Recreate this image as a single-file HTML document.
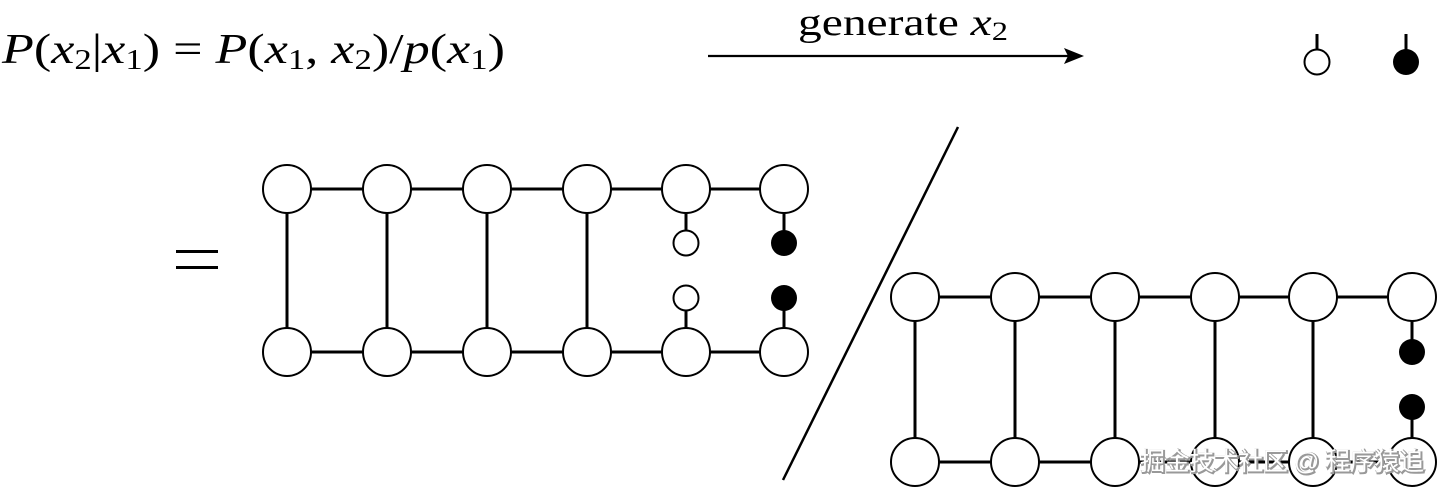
<!DOCTYPE html>
<html><head><meta charset="utf-8"><style>
html,body{margin:0;padding:0;background:#fff;width:1441px;height:491px;overflow:hidden}
</style></head><body>
<svg width="1441" height="491" viewBox="0 0 1441 491" xmlns="http://www.w3.org/2000/svg">
<defs>
<g id="big"><circle r="24" fill="#fff" stroke="#000" stroke-width="2"/></g>
</defs>
<text x="2" y="63" font-family="Liberation Serif, serif" font-size="42" textLength="503" lengthAdjust="spacingAndGlyphs"><tspan font-style="italic">P</tspan>(<tspan font-style="italic">x</tspan><tspan font-size="28" dy="6">2</tspan><tspan dy="-6">|</tspan><tspan font-style="italic">x</tspan><tspan font-size="28" dy="6">1</tspan><tspan dy="-6">) = </tspan><tspan font-style="italic">P</tspan>(<tspan font-style="italic">x</tspan><tspan font-size="28" dy="6">1</tspan><tspan dy="-6">, </tspan><tspan font-style="italic">x</tspan><tspan font-size="28" dy="6">2</tspan><tspan dy="-6">)/</tspan><tspan font-style="italic">p</tspan>(<tspan font-style="italic">x</tspan><tspan font-size="28" dy="6">1</tspan><tspan dy="-6">)</tspan></text>
<text x="798" y="35" font-family="Liberation Serif, serif" font-size="38" textLength="210" lengthAdjust="spacingAndGlyphs">generate <tspan font-style="italic">x</tspan><tspan font-size="26" dy="5">2</tspan></text>
<line x1="708" y1="56" x2="1072" y2="56" stroke="#000" stroke-width="2.2"/>
<polygon points="1064,48 1084,56 1064,64 1068,56" fill="#000"/>
<line x1="1317" y1="34" x2="1317" y2="50" stroke="#000" stroke-width="3"/>
<circle cx="1317" cy="62" r="12.5" fill="#fff" stroke="#000" stroke-width="2"/>
<line x1="1406" y1="34" x2="1406" y2="50" stroke="#000" stroke-width="3"/>
<circle cx="1406" cy="62" r="13" fill="#000"/>
<rect x="176" y="250" width="42" height="3" fill="#000"/>
<rect x="176" y="266" width="42" height="3" fill="#000"/>
<g stroke="#000" stroke-width="3" fill="none">
<line x1="287" y1="189" x2="784" y2="189"/>
<line x1="287" y1="352" x2="784" y2="352"/>
<line x1="287" y1="189" x2="287" y2="352"/>
<line x1="387" y1="189" x2="387" y2="352"/>
<line x1="487" y1="189" x2="487" y2="352"/>
<line x1="587" y1="189" x2="587" y2="352"/>
<line x1="686" y1="189" x2="686" y2="243"/>
<line x1="784" y1="189" x2="784" y2="243"/>
<line x1="686" y1="298" x2="686" y2="352"/>
<line x1="784" y1="298" x2="784" y2="352"/>
</g>
<use href="#big" x="287" y="189"/><use href="#big" x="387" y="189"/><use href="#big" x="487" y="189"/><use href="#big" x="587" y="189"/><use href="#big" x="686" y="189"/><use href="#big" x="784" y="189"/>
<use href="#big" x="287" y="352"/><use href="#big" x="387" y="352"/><use href="#big" x="487" y="352"/><use href="#big" x="587" y="352"/><use href="#big" x="686" y="352"/><use href="#big" x="784" y="352"/>
<circle cx="686" cy="243" r="12.5" fill="#fff" stroke="#000" stroke-width="2"/>
<circle cx="686" cy="298" r="12.5" fill="#fff" stroke="#000" stroke-width="2"/>
<circle cx="784" cy="243" r="13" fill="#000"/>
<circle cx="784" cy="298" r="13" fill="#000"/>
<line x1="958" y1="127" x2="783" y2="480" stroke="#000" stroke-width="2.5"/>
<g stroke="#000" stroke-width="3" fill="none">
<line x1="915" y1="297" x2="1412" y2="297"/>
<line x1="915" y1="462" x2="1412" y2="462"/>
<line x1="915" y1="297" x2="915" y2="462"/>
<line x1="1015" y1="297" x2="1015" y2="462"/>
<line x1="1115" y1="297" x2="1115" y2="462"/>
<line x1="1215" y1="297" x2="1215" y2="462"/>
<line x1="1313" y1="297" x2="1313" y2="462"/>
<line x1="1412" y1="297" x2="1412" y2="352"/>
<line x1="1412" y1="407" x2="1412" y2="462"/>
</g>
<use href="#big" x="915" y="297"/><use href="#big" x="1015" y="297"/><use href="#big" x="1115" y="297"/><use href="#big" x="1215" y="297"/><use href="#big" x="1313" y="297"/><use href="#big" x="1412" y="297"/>
<use href="#big" x="915" y="462"/><use href="#big" x="1015" y="462"/><use href="#big" x="1115" y="462"/><use href="#big" x="1215" y="462"/><use href="#big" x="1313" y="462"/><use href="#big" x="1412" y="462"/>
<circle cx="1412" cy="352" r="13" fill="#000"/>
<circle cx="1412" cy="407" r="13" fill="#000"/>
<text x="1141" y="471" font-family="Liberation Sans, Noto Sans CJK SC, sans-serif" font-size="25" fill="#999" stroke="#999" stroke-width="2" textLength="284">掘金技术社区 @ 程序猿追</text>
<text x="1140" y="470" font-family="Liberation Sans, Noto Sans CJK SC, sans-serif" font-size="25" fill="#fff" textLength="284">掘金技术社区 @ 程序猿追</text>
</svg>
</body></html>
